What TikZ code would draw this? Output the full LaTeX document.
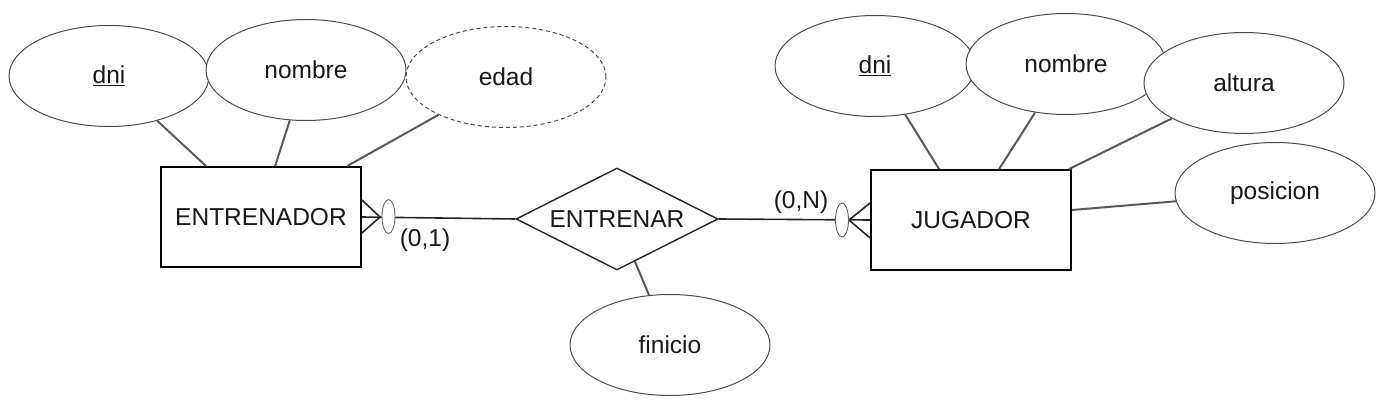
\documentclass[tikz,border=0pt]{standalone}
\usepackage{fontspec}
\setmainfont{Liberation Sans}
\usetikzlibrary{shapes.geometric}
\begin{document}
\begin{tikzpicture}[x=1pt,y=-1pt,
  every node/.style={font=\fontsize{24.5}{28}\selectfont, text=black!90},
  entity/.style={draw=black, line width=1.8pt, rectangle, minimum width=200pt, minimum height=100pt, inner sep=0pt},
  attr/.style={draw=black!70, line width=1pt, fill=white, ellipse, minimum width=200pt, minimum height=101pt, inner sep=0pt},
  derived/.style={attr, dashed, dash pattern=on 4pt off 3pt},
  rel/.style={draw=black!85, line width=1.4pt, diamond, aspect=2, minimum width=202pt, minimum height=102pt, inner sep=0pt},
  link/.style={draw=black!65, line width=2pt},
  conn/.style={draw=black!85, line width=1.6pt},
  zero/.style={draw=black!60, line width=0.9pt, fill=white, ellipse, minimum width=13pt, minimum height=34pt, inner sep=0pt},
  card/.style={inner sep=0pt}
]
\useasboundingbox (0,0) rectangle (1390,406);
% entities and relationship
\node[entity] (e1) at (261,217) {ENTRENADOR};
\node[entity] (e2) at (971,220) {JUGADOR};
\node[rel] (r) at (617,219) {ENTRENAR};
% attributes (later ones drawn over earlier ones)
\node[attr] (a1) at (109,76) {\underline{dni}};
\node[attr] (a2) at (306,70) {nombre};
\node[derived] (a3) at (506,77) {edad};
\node[attr] (f) at (670,345) {finicio};
\node[attr] (b1) at (875,66) {\underline{dni}};
\node[attr] (b2) at (1066,64) {nombre};
\node[attr] (b3) at (1244,83) {altura};
\node[attr] (b4) at (1275,193) {posicion};
% attribute links
\draw[link] (a1) -- ([xshift=46pt]e1.north west);
\draw[link] (a2) -- ([xshift=115pt]e1.north west);
\draw[link] (a3) -- ([xshift=187pt]e1.north west);
\draw[link] (r) -- (f);
\draw[link] (b1) -- ([xshift=69pt]e2.north west);
\draw[link] (b2) -- ([xshift=129pt]e2.north west);
\draw[link] (b3) -- ([xshift=-3pt]e2.north east);
\draw[link] (b4) -- ([yshift=10pt]e2.east);
% relationship connectors
\draw[conn] (e1.east) -- (r.west);
\draw[conn] (r.east) -- (e2.west);
% crow's feet
\coordinate (c1) at (380,217);
\coordinate (c2) at (849,220);
\draw[conn] ([yshift=17pt]e1.east) -- (c1) -- ([yshift=-16pt]e1.east);
\draw[conn] ([yshift=17pt]e2.west) -- (c2) -- ([yshift=-18pt]e2.west);
\node[zero] (o1) at (388.5,216.5) {};
\node[zero] (o2) at (842,220) {};
% cardinalities
\node[card] (k1) at (425,240) {(0,1)};
\node[card] (k2) at (801,202) {(0,N)};
\end{tikzpicture}
\end{document}
